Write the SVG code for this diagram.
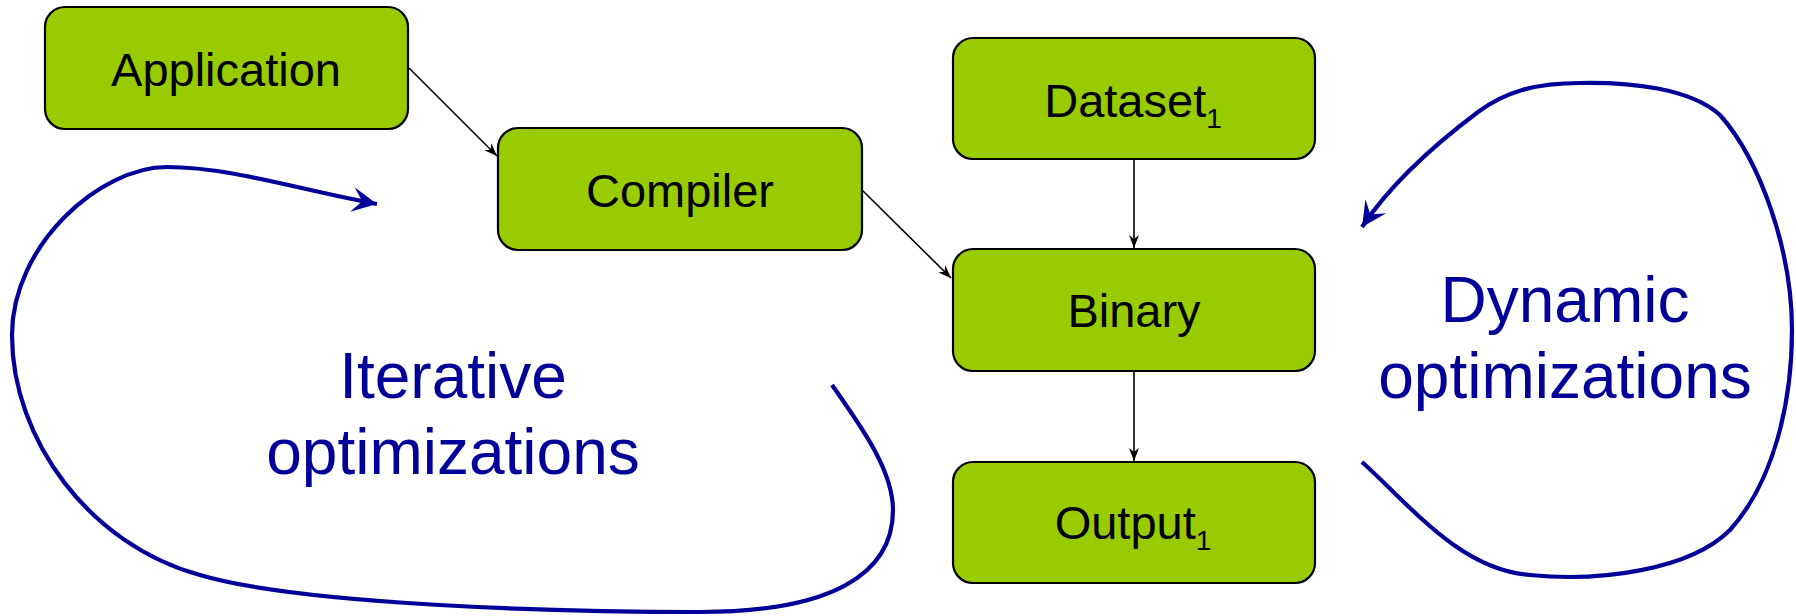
<svg xmlns="http://www.w3.org/2000/svg" width="1796" height="616" viewBox="0 0 1796 616">
<style>
.box{fill:#99cc00;stroke:#000;stroke-width:2.2}
.lbl{font-family:"Liberation Sans",Arial,sans-serif;font-size:47px;fill:#000;text-anchor:middle}
.sub{font-size:28px}
.big{font-family:"Liberation Sans",Arial,sans-serif;font-size:64px;fill:#000099;text-anchor:middle}
.edge{stroke:#000;stroke-width:1.6;fill:none;marker-end:url(#ah)}
.loop{stroke:#000099;stroke-width:4.2;fill:none;marker-end:url(#bh)}
</style>
<defs>
<marker id="ah" viewBox="-14 -6 15 12" refX="0" refY="0" markerWidth="15" markerHeight="12" markerUnits="userSpaceOnUse" orient="auto">
<path d="M0,0 L-13,-5 L-9,0 L-13,5 z" fill="#000"/>
</marker>
<marker id="bh" viewBox="-26 -14 27 28" refX="0" refY="0" markerWidth="27" markerHeight="28" markerUnits="userSpaceOnUse" orient="auto">
<path d="M0,0 L-25,-12.5 L-15,0 L-25,12.5 z" fill="#000099"/>
</marker>
</defs>
<g id="connectors">
<line class="edge" x1="409" y1="68" x2="497" y2="156"/>
<line class="edge" x1="862" y1="190" x2="951" y2="278"/>
<line class="edge" x1="1134" y1="159" x2="1134" y2="248"/>
<line class="edge" x1="1134" y1="371" x2="1134" y2="461"/>
<path id="iterative-loop" class="loop" d="M832,385 C860,425 893,470 893,510 C893,575 830,612 700,612 C560,612 300,605 200,575 C90,545 12,440 12,335 C12,245 100,167 167,167 C230,167 300,190 377,204"/>
<path id="dynamic-loop" class="loop" d="M1362,462 C1410,505 1460,570 1530,575 C1600,582 1690,570 1730,530 C1775,480 1792,400 1792,330 C1792,250 1760,160 1720,115 C1690,88 1630,82 1580,83 C1535,83 1505,92 1478,112 C1430,148 1390,185 1362,227"/>
</g>
<g id="application">
<rect class="box" x="45" y="7" width="363" height="122" rx="20"/>
<text class="lbl" x="226" y="86">Application</text>
</g>
<g id="compiler">
<rect class="box" x="498" y="128" width="364" height="122" rx="20"/>
<text class="lbl" x="680" y="207">Compiler</text>
</g>
<g id="dataset">
<rect class="box" x="953" y="38" width="362" height="121" rx="20"/>
<text class="lbl" x="1133" y="117">Dataset<tspan class="sub" dy="11">1</tspan></text>
</g>
<g id="binary">
<rect class="box" x="953" y="249" width="362" height="122" rx="20"/>
<text class="lbl" x="1134" y="327">Binary</text>
</g>
<g id="output">
<rect class="box" x="953" y="462" width="362" height="121" rx="20"/>
<text class="lbl" x="1133" y="539">Output<tspan class="sub" dy="11">1</tspan></text>
</g>
<g id="iterative-label">
<text class="big" x="453" y="398">Iterative</text>
<text class="big" x="453" y="474">optimizations</text>
</g>
<g id="dynamic-label">
<text class="big" x="1565" y="322">Dynamic</text>
<text class="big" x="1565" y="398">optimizations</text>
</g>
</svg>
